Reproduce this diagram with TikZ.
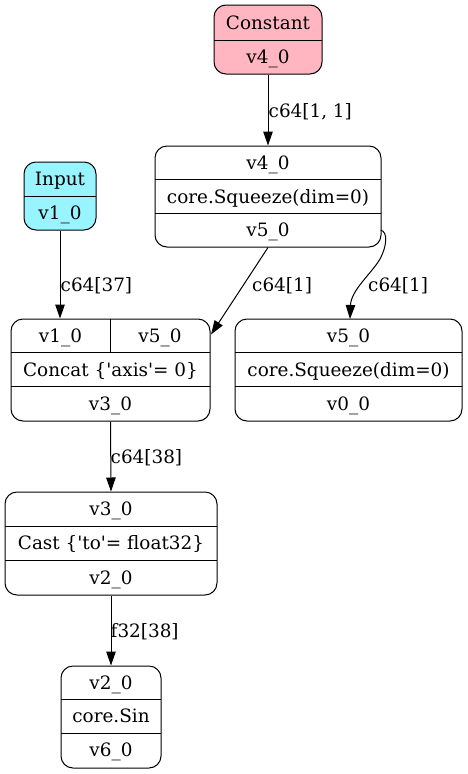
\documentclass[tikz,border=0pt]{standalone}
\usepackage{fontspec}
\setmainfont{DejaVu Serif}
\usetikzlibrary{arrows.meta,calc}
\definecolor{pinkfill}{HTML}{FFB6C1}
\definecolor{cyanfill}{HTML}{98F5FF}
\newcommand{\fs}{\fontsize{18.4}{22}\selectfont}
\newcommand{\sq}{\textquotesingle}
\tikzset{
  box/.style={draw, rounded corners=12pt, line width=1pt, inner sep=0pt},
  txt/.style={inner sep=0pt, anchor=base, font=\fs},
  lbl/.style={inner sep=0pt, anchor=base west, font=\fs},
  edge/.style={line width=1pt, -{Triangle[length=14pt,width=9.5pt]}},
  div/.style={line width=1pt}
}
\begin{document}
\begin{tikzpicture}[x=1pt,y=-1pt]
\useasboundingbox (0,0) rectangle (467,774);
% Constant
\node[box, fill=pinkfill, minimum width=108pt, minimum height=69pt] (const) at (268,39.5) {};
\draw[div] (214,40) -- (322,40);
\node[txt] (constA) at (268,29.3) {Constant};
\node[txt] (constB) at (268,63.5) {v4\_0};
% Squeeze 1
\node[box, minimum width=226pt, minimum height=101pt] (sqa) at (268,196.5) {};
\draw[div] (155,179.5) -- (381,179.5);
\draw[div] (155,213) -- (381,213);
\node[txt] (sqaA) at (268,169.5) {v4\_0};
\node[txt] (sqaB) at (268,203) {core.Squeeze(dim=0)};
\node[txt] (sqaC) at (268,236.5) {v5\_0};
% Input
\node[box, fill=cyanfill, minimum width=72pt, minimum height=68pt] (inp) at (60,196) {};
\draw[div] (24,196) -- (96,196);
\node[txt] (inpA) at (60,185.5) {Input};
\node[txt] (inpB) at (60,219.5) {v1\_0};
% Concat
\node[box, minimum width=199pt, minimum height=102pt] (cat) at (110.5,370) {};
\draw[div] (11,352.5) -- (210,352.5);
\draw[div] (11,386.5) -- (210,386.5);
\draw[div] (110,319) -- (110,352.5);
\node[txt] (catA) at (60.5,342.5) {v1\_0};
\node[txt] (catB) at (160,342.5) {v5\_0};
\node[txt] (catC) at (110.5,376) {Concat \{\sq axis\sq= 0\}};
\node[txt] (catD) at (110.5,410.5) {v3\_0};
% Squeeze 2
\node[box, minimum width=227pt, minimum height=102pt] (sqb) at (348.5,370) {};
\draw[div] (235,352.5) -- (462,352.5);
\draw[div] (235,386.5) -- (462,386.5);
\node[txt] (sqbA) at (348.5,342.5) {v5\_0};
\node[txt] (sqbB) at (348.5,376) {core.Squeeze(dim=0)};
\node[txt] (sqbC) at (348.5,410.5) {v0\_0};
% Cast
\node[box, minimum width=212pt, minimum height=103pt] (cast) at (111,543.5) {};
\draw[div] (5,526) -- (217,526);
\draw[div] (5,560) -- (217,560);
\node[txt] (castA) at (111,515.5) {v3\_0};
\node[txt] (castB) at (111,549.5) {Cast \{\sq to\sq= float32\}};
\node[txt] (castC) at (111,584) {v2\_0};
% Sin
\node[box, minimum width=100pt, minimum height=102pt] (sin) at (111,717) {};
\draw[div] (61,699.5) -- (161,699.5);
\draw[div] (61,733) -- (161,733);
\node[txt] (sinA) at (111,689.5) {v2\_0};
\node[txt] (sinB) at (111,722.5) {core.Sin};
\node[txt] (sinC) at (111,756.5) {v6\_0};
% ports
\coordinate (catport) at (211,334.5);
\coordinate (sqaport) at (380.7,230);
% edges
\draw[edge] (const.south) -- (sqa.north);
\node[lbl] (l1) at (268.5,117) {c64[1, 1]};
\draw[edge] (inp.south) -- (inp.south |- cat.north);
\node[lbl] (l2) at (60.5,291) {c64[37]};
\draw[edge] (sqa.south) -- (catport);
\node[lbl] (l3) at (252,291) {c64[1]};
\draw[edge] (sqaport) .. controls (388,232) and (387,246) .. (380,259) .. controls (372,273) and (351,290) .. (350,319);
\node[lbl] (l4) at (368,291) {c64[1]};
\draw[edge] (cat.south) -- (cast.north);
\node[lbl] (l5) at (110.5,463) {c64[38]};
\draw[edge] (cast.south) -- (sin.north);
\node[lbl] (l6) at (110.5,637) {f32[38]};
\end{tikzpicture}
\end{document}
